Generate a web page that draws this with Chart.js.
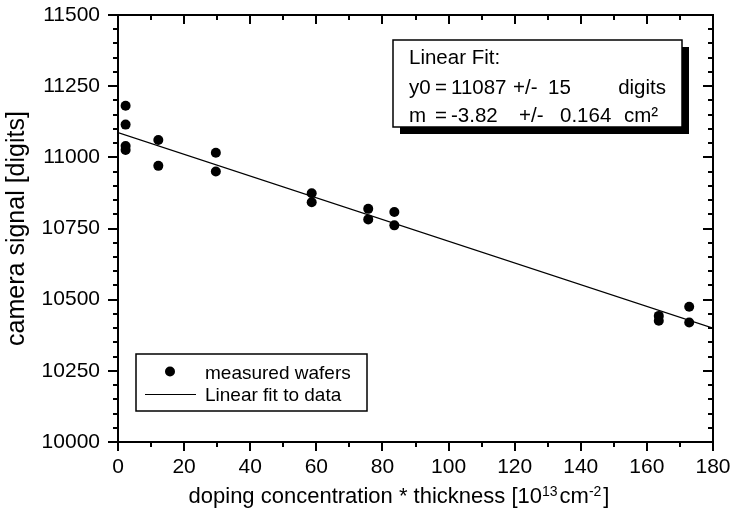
<!DOCTYPE html>
<html>
<head>
<meta charset="utf-8">
<script src="https://cdn.jsdelivr.net/npm/chart.js@4.4.1/dist/chart.umd.min.js"></script>
<style>
html,body{margin:0;padding:0;background:#fff;}
#wrap{width:731px;height:519px;}
</style>
</head>
<body>
<div id="wrap"><canvas id="c" width="731" height="519"></canvas></div>
<script>
// ---- data ----
const waferX = [2.3, 2.3, 2.3, 2.3, 12.2, 12.2, 29.6, 29.6, 58.6, 58.6, 75.7, 75.7, 83.6, 83.6, 163.6, 163.6, 172.8, 172.8];
const waferY = [11181, 11115, 11040, 11026, 11061, 10970, 11016, 10950, 10874, 10842, 10819, 10782, 10808, 10761, 10443, 10426, 10475, 10420];
const fitX = [0, 180];
const fitY = [11087, 10400];
const xTicks = [0, 20, 40, 60, 80, 100, 120, 140, 160, 180];
const yTicks = [10000, 10250, 10500, 10750, 11000, 11250, 11500];
const xMinorStep = 10;
const yMinorStep = 50;
const legendLabels = ["measured wafers", "Linear fit to data"];
const fitTitle = "Linear Fit:";
const fitLine1 = ["y0", "=", "11087", "+/-", "15", "digits"];
const fitLine2 = ["m", "=", "-3.82", "+/-", "0.164", "cm²"];
const yTitle = "camera signal [digits]";
const xTitleParts = [["doping concentration * thickness [10", 0], ["13", 1], ["cm", 0], ["-2", 1], ["]", 0]];

const FONT = "'Liberation Sans', Arial, Helvetica, sans-serif";

function zeroPad(s) { s.paddingLeft = 0; s.paddingRight = 0; s.paddingTop = 0; s.paddingBottom = 0; }

const decor = {
  id: 'decor',
  afterDraw(chart) {
    const ctx = chart.ctx;
    const a = chart.chartArea;
    const xs = chart.scales.x, ys = chart.scales.y;
    ctx.save();
    ctx.strokeStyle = '#000';
    ctx.fillStyle = '#000';
    // frame
    ctx.lineWidth = 2;
    ctx.strokeRect(a.left, a.top, a.right - a.left, a.bottom - a.top);
    // ticks (outward on bottom/left, mirrored inward on top/right)
    for (let v = xs.min; v <= xs.max + 1e-9; v += xMinorStep) {
      const p = Math.round(xs.getPixelForValue(v));
      const len = xTicks.includes(v) ? 9 : 5;
      ctx.beginPath();
      ctx.moveTo(p, a.bottom); ctx.lineTo(p, a.bottom + len);
      ctx.moveTo(p, a.top); ctx.lineTo(p, a.top + len);
      ctx.stroke();
    }
    for (let v = ys.min; v <= ys.max + 1e-9; v += yMinorStep) {
      const p = Math.round(ys.getPixelForValue(v));
      const len = yTicks.includes(v) ? 10 : 5;
      ctx.beginPath();
      ctx.moveTo(a.left, p); ctx.lineTo(a.left - len, p);
      ctx.moveTo(a.right, p); ctx.lineTo(a.right - len, p);
      ctx.stroke();
    }
    // x title with superscripts
    const mainF = "22px " + FONT, supF = "14px " + FONT;
    const gap = 2;
    let total = 0;
    xTitleParts.forEach(([t, s]) => { ctx.font = s ? supF : mainF; total += ctx.measureText(t).width + (s ? gap : 0); });
    let tx = 399 - total / 2;
    const tb = 503;
    ctx.textBaseline = 'alphabetic';
    ctx.textAlign = 'left';
    xTitleParts.forEach(([t, s]) => {
      ctx.font = s ? supF : mainF;
      ctx.fillText(t, tx, s ? tb - 7 : tb);
      tx += ctx.measureText(t).width + (s ? gap : 0);
    });

    // fit result box with shadow
    const bx = 393, by = 40, bw = 289, bh = 87;
    ctx.fillStyle = '#000';
    ctx.fillRect(bx + 7, by + 7, bw, bh);
    ctx.fillStyle = '#fff';
    ctx.fillRect(bx, by, bw, bh);
    ctx.lineWidth = 1.5;
    ctx.strokeRect(bx, by, bw, bh);
    ctx.fillStyle = '#000';
    ctx.font = "20.5px " + FONT;
    ctx.fillText(fitTitle, 409, 63.5);
    const pos1 = [409, 435, 451, 513, 548, null];
    const pos2 = [409, 435, 451, 519, 560, 624];
    fitLine1.forEach((t, i) => {
      if (pos1[i] === null) { ctx.textAlign = 'right'; ctx.fillText(t, 666, 93.5); ctx.textAlign = 'left'; }
      else ctx.fillText(t, pos1[i], 93.5);
    });
    fitLine2.forEach((t, i) => ctx.fillText(t, pos2[i], 122));

    // legend
    const lx = 136, ly = 354, lw = 231, lh = 57;
    ctx.fillStyle = '#fff';
    ctx.fillRect(lx, ly, lw, lh);
    ctx.lineWidth = 1.5;
    ctx.strokeRect(lx, ly, lw, lh);
    ctx.fillStyle = '#000';
    ctx.beginPath();
    ctx.arc(170, 371.5, 5, 0, Math.PI * 2);
    ctx.fill();
    ctx.lineWidth = 1;
    ctx.beginPath();
    ctx.moveTo(145, 394.5); ctx.lineTo(196, 394.5);
    ctx.stroke();
    ctx.font = "19px " + FONT;
    ctx.fillText(legendLabels[0], 205, 378.5);
    ctx.fillText(legendLabels[1], 205, 401);
    ctx.restore();
  }
};

new Chart(document.getElementById('c'), {
  type: 'scatter',
  data: {
    datasets: [
      {
        label: legendLabels[0],
        data: waferX.map((x, i) => ({ x: x, y: waferY[i] })),
        pointRadius: 5,
        pointHoverRadius: 5,
        backgroundColor: '#000',
        borderWidth: 0,
        showLine: false
      },
      {
        type: 'line',
        label: legendLabels[1],
        data: fitX.map((x, i) => ({ x: x, y: fitY[i] })),
        borderColor: '#000',
        borderWidth: 1.2,
        pointRadius: 0,
        fill: false
      }
    ]
  },
  options: {
    responsive: false,
    animation: false,
    devicePixelRatio: 1,
    layout: { padding: { top: 15, right: 18, left: 0, bottom: 0 } },
    plugins: { legend: { display: false }, tooltip: { enabled: false } },
    scales: {
      x: {
        type: 'linear', min: 0, max: 180,
        grid: { display: false, drawTicks: false },
        border: { display: false },
        afterBuildTicks(s) { s.ticks = xTicks.map(v => ({ value: v })); },
        ticks: { color: '#000', font: { family: FONT, size: 21 }, padding: 13, maxRotation: 0, autoSkip: false, callback: v => String(v) },
        afterFit(s) { s.height = 77; zeroPad(s); }
      },
      y: {
        type: 'linear', min: 10000, max: 11500,
        grid: { display: false, drawTicks: false },
        border: { display: false },
        afterBuildTicks(s) { s.ticks = yTicks.map(v => ({ value: v })); },
        ticks: { color: '#000', font: { family: FONT, size: 21 }, padding: 18, autoSkip: false, callback: v => String(v) },
        title: { display: true, text: yTitle, color: '#000', font: { family: FONT, size: 25 }, padding: { top: 2, bottom: 0 } },
        afterFit(s) { s.width = 118; zeroPad(s); }
      }
    }
  },
  plugins: [decor]
});
</script>
</body>
</html>
